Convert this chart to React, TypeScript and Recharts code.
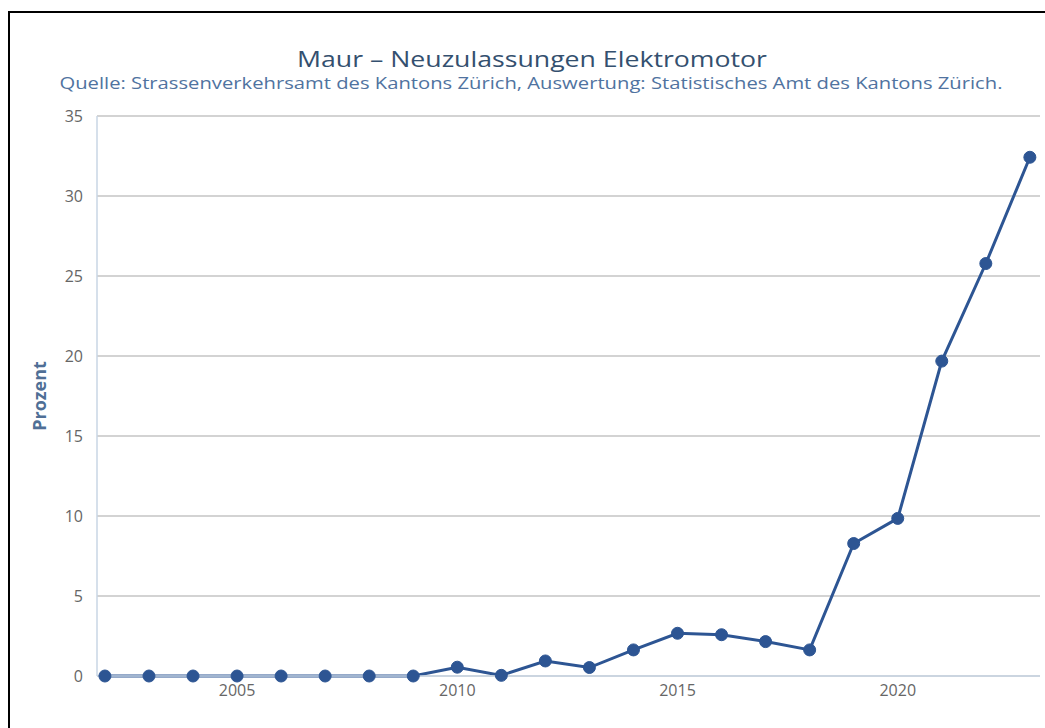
import React from 'react';
import { LineChart, Line, XAxis, YAxis, CartesianGrid } from 'recharts';

const years = [2002, 2003, 2004, 2005, 2006, 2007, 2008, 2009, 2010, 2011, 2012, 2013, 2014, 2015, 2016, 2017, 2018, 2019, 2020, 2021, 2022, 2023];
const prozent = [0, 0, 0, 0, 0, 0, 0, 0, 0.55, 0.04, 0.94, 0.53, 1.63, 2.67, 2.58, 2.15, 1.63, 8.28, 9.85, 19.68, 25.78, 32.42];
const xTicks = [2005, 2010, 2015, 2020];
const yTicks = [0, 5, 10, 15, 20, 25, 30, 35];

const title = 'Maur – Neuzulassungen Elektromotor';
const subtitle = 'Quelle: Strassenverkehrsamt des Kantons Zürich, Auswertung: Statistisches Amt des Kantons Zürich.';

const data = years.map((y, i) => ({ year: y, value: prozent[i] }));

const FONT = '"Open Sans", "DejaVu Sans", sans-serif';
const LINE = '#2d5593';

export default function App() {
  return (
    <div style={{ position: 'fixed', left: 0, top: 0, width: 1045, height: 728, overflow: 'hidden', background: '#fff' }}>
      <div style={{ position: 'absolute', left: 8, top: 11, width: 1100, height: 800, borderTop: '2px solid #000', borderLeft: '2px solid #000' }} />
      <svg style={{ position: 'absolute', left: 0, top: 0 }} width={1045} height={110}>
        <text x={532} y={67} textAnchor="middle" fill="#34506f" fontFamily={FONT} fontSize={22} textLength={470} lengthAdjust="spacingAndGlyphs">{title}</text>
        <text x={531} y={89} textAnchor="middle" fill="#5073a0" fontFamily={FONT} fontSize={15.5} textLength={943} lengthAdjust="spacingAndGlyphs">{subtitle}</text>
      </svg>
      <div style={{ position: 'absolute', left: 0, top: 0 }}>
        <LineChart width={1045} height={728} data={data} margin={{ top: 116, right: 5, bottom: 22, left: 0 }}>
          <CartesianGrid vertical={false} stroke="#c4c4c4" strokeWidth={1.5} />
          <XAxis
            dataKey="year"
            type="number"
            domain={[2001.82, 2023.23]}
            ticks={xTicks}
            height={30}
            axisLine={{ stroke: '#c8d6e4', strokeWidth: 1.5 }}
            tickLine={false}
            tickSize={7}
            tickMargin={2}
            fontSize={16}
            tick={{ fill: '#666', fontSize: 16, fontFamily: FONT, style: { fontSize: 16 } }}
            allowDataOverflow
          />
          <YAxis
            type="number"
            domain={[0, 35]}
            ticks={yTicks}
            width={97}
            axisLine={{ stroke: '#c8d6e4', strokeWidth: 1.5 }}
            tickLine={false}
            tickSize={12}
            tickMargin={2}
            fontSize={16}
            tick={{ fill: '#666', fontSize: 16, fontFamily: FONT, style: { fontSize: 16 } }}
            label={{ value: 'Prozent', angle: -90, position: 'insideLeft', offset: 40, textAnchor: 'middle', fill: '#4f6f96', fontSize: 18, fontWeight: 'bold', fontFamily: FONT }}
          />
          <Line
            type="linear"
            dataKey="value"
            stroke={LINE}
            strokeWidth={3}
            dot={{ r: 6, fill: LINE, stroke: LINE, strokeWidth: 1 }}
            activeDot={false}
            isAnimationActive={false}
          />
        </LineChart>
      </div>
    </div>
  );
}
